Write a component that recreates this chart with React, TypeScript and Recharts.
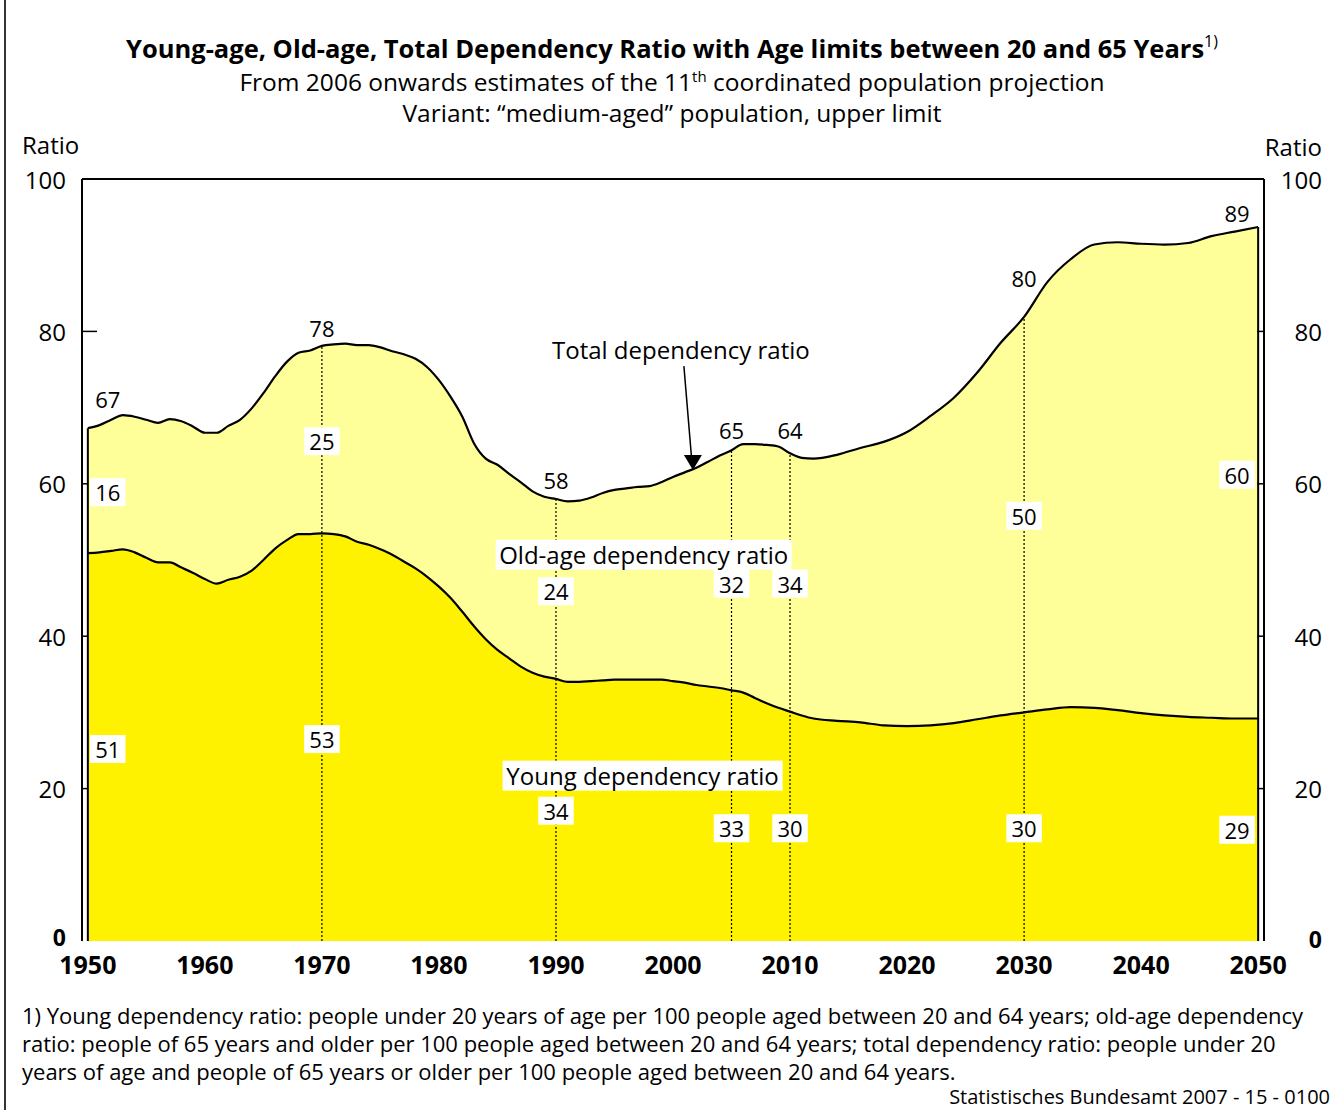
import {
  AreaChart, Area, Line, XAxis, YAxis, ReferenceLine, ReferenceDot,
} from 'recharts';

const FONT = '"Open Sans", "DejaVu Sans", sans-serif';
const YOUNG_FILL = '#FFF200';
const OLD_FILL = '#FFFF99';

// years: yearly up to 2012, every 2 years after
const years = [
  1950, 1951, 1952, 1953, 1954, 1955, 1956, 1957, 1958, 1959,
  1960, 1961, 1962, 1963, 1964, 1965, 1966, 1967, 1968, 1969,
  1970, 1971, 1972, 1973, 1974, 1975, 1976, 1977, 1978, 1979,
  1980, 1981, 1982, 1983, 1984, 1985, 1986, 1987, 1988, 1989,
  1990, 1991, 1992, 1993, 1994, 1995, 1996, 1997, 1998, 1999,
  2000, 2001, 2002, 2003, 2004, 2005, 2006, 2007, 2008, 2009,
  2010, 2011, 2012, 2014, 2016, 2018, 2020, 2022, 2024, 2026,
  2028, 2030, 2032, 2034, 2036, 2038, 2040, 2042, 2044, 2046,
  2048, 2050,
];

const total = [
  67.3, 67.7, 68.4, 69.0, 68.8, 68.4, 68.0, 68.5, 68.2, 67.5,
  66.7, 66.7, 67.6, 68.4, 69.9, 71.9, 74.1, 76.0, 77.2, 77.5,
  78.1, 78.3, 78.4, 78.2, 78.2, 77.9, 77.4, 77.0, 76.4, 75.3,
  73.6, 71.4, 68.8, 65.3, 63.3, 62.5, 61.3, 60.2, 59.0, 58.3,
  58.0, 57.7, 57.8, 58.2, 58.8, 59.2, 59.4, 59.6, 59.7, 60.2,
  60.9, 61.5, 62.1, 62.9, 63.7, 64.4, 65.2, 65.2, 65.1, 64.9,
  64.0, 63.4, 63.3, 63.8, 64.7, 65.5, 66.8, 68.9, 71.3, 74.6,
  78.5, 81.9, 86.5, 89.5, 91.4, 91.7, 91.5, 91.4, 91.6, 92.5,
  93.1, 93.7,
];

const young = [
  50.9, 51.0, 51.2, 51.4, 51.0, 50.3, 49.7, 49.7, 49.0, 48.3,
  47.5, 46.9, 47.4, 47.8, 48.6, 50.0, 51.5, 52.6, 53.4, 53.4,
  53.5, 53.4, 53.1, 52.4, 52.0, 51.4, 50.7, 49.8, 48.9, 47.8,
  46.5, 45.0, 43.2, 41.3, 39.6, 38.2, 37.1, 36.0, 35.2, 34.7,
  34.4, 34.0, 34.0, 34.1, 34.2, 34.3, 34.3, 34.3, 34.3, 34.3,
  34.1, 33.9, 33.6, 33.4, 33.2, 32.9, 32.6, 31.9, 31.2, 30.6,
  30.1, 29.6, 29.2, 28.9, 28.7, 28.3, 28.2, 28.3, 28.6, 29.1,
  29.6, 30.0, 30.4, 30.7, 30.6, 30.3, 29.9, 29.6, 29.4, 29.3,
  29.2, 29.2,
];

// labelled years and their printed values
const labelYears = [1950, 1970, 1990, 2005, 2010, 2030, 2050];
const totalLabels = ['67', '78', '58', '65', '64', '80', '89'];
const oldLabels = ['16', '25', '24', '32', '34', '50', '60'];
const youngLabels = ['51', '53', '34', '33', '30', '30', '29'];
const dottedYears = [1970, 1990, 2005, 2010, 2030];

const xTickLabels = [1950, 1960, 1970, 1980, 1990, 2000, 2010, 2020, 2030, 2040, 2050];
const yTicks = [0, 20, 40, 60, 80, 100];

// layout of the annotations (in axis units)
const labelX = [1951.7, 1970, 1990, 2005, 2010, 2030, 2048.2];
const totalLabelY = [71.1, 80.4, 60.5, 67.1, 67.1, 87.0, 95.5];
const oldLabelY = [58.9, 65.6, 45.9, 46.9, 46.9, 55.8, 61.2];
const youngLabelY = [25.2, 26.5, 17.1, 14.8, 14.8, 14.8, 14.6];

const data = years.map((year, i) => ({
  year,
  young: young[i],
  old: +(total[i] - young[i]).toFixed(1),
  total: total[i],
}));

const totalAt = (y: number) => total[years.indexOf(y)];

const halfYearTicks: number[] = [];
for (let t = 1949.5; t <= 2050.5; t += 1) halfYearTicks.push(t);

const BoxLabel = ({ cx, cy, text, boxed, width, fontSize = 22 }: any) => {
  const w = width ?? text.length * fontSize * 0.58 + 10;
  const h = fontSize + 6;
  return (
    <g>
      {boxed && <rect x={cx - w / 2} y={cy - h / 2} width={w} height={h} fill="#fff" />}
      <text x={cx} y={cy} textAnchor="middle" dominantBaseline="central"
        fontSize={fontSize} fontFamily={FONT} fill="#000">{text}</text>
    </g>
  );
};

const Arrow = ({ cx, cy }: any) => (
  <g>
    <line x1={cx - 9} y1={cy - 104} x2={cx - 1.5} y2={cy - 14} stroke="#000" strokeWidth={1.5} />
    <polygon points={`${cx - 9},${cy - 15} ${cx + 9},${cy - 15} ${cx},${cy}`} fill="#000" />
    <text x={cx - 12} y={cy - 121} textAnchor="middle" dominantBaseline="central"
      fontSize={24} fontFamily={FONT} fill="#000">Total dependency ratio</text>
  </g>
);

const LeftTick = ({ x, y, payload }: any) => {
  const v = payload.value;
  const len = v >= total[0] ? 15 : 6;
  return (
    <g>
      {v > 0 && v < 100 && <line x1={x + 16} y1={y} x2={x + 16 + len} y2={y} stroke="#000" strokeWidth={1.5} />}
      <text x={x} y={v === 0 ? y - 4 : y} textAnchor="end" dominantBaseline="central" fontSize={v === 0 ? 23 : 24}
        fontWeight={v === 0 ? 700 : 400} fontFamily={FONT} fill="#000">{v}</text>
    </g>
  );
};

const RightTick = ({ x, y, payload }: any) => {
  const v = payload.value;
  return (
    <g>
      {v > 0 && v < 100 && <line x1={x - 58} y1={y} x2={x - 65} y2={y} stroke="#000" strokeWidth={1.5} />}
      <text x={x} y={v === 0 ? y - 2 : y} textAnchor="end" dominantBaseline="central" fontSize={v === 0 ? 23 : 24}
        fontWeight={v === 0 ? 700 : 400} fontFamily={FONT} fill="#000">{v}</text>
    </g>
  );
};

const txt = (extra: any) => ({ position: 'absolute' as const, fontFamily: FONT, color: '#000', whiteSpace: 'nowrap' as const, ...extra });

export default function App() {
  return (
    <div style={{ position: 'absolute', left: 0, top: 0, width: 1339, height: 1110, background: '#fff', overflow: 'hidden' }}>
      <div style={{ position: 'absolute', left: 4, top: 0, width: 1.5, height: 1110, background: '#333' }} />

      <div style={{ position: 'absolute', left: 0, top: 0 }}>
        <AreaChart width={1339} height={1110} data={data}
          margin={{ top: 179, left: 22, right: 15, bottom: 129 }}>
          <XAxis xAxisId="yr" dataKey="year" type="number" domain={[1949.5, 2050.5]} allowDataOverflow
            ticks={halfYearTicks} interval={0} tick={() => <g />} tickSize={6} height={0}
            axisLine={{ stroke: '#000', strokeWidth: 2 }} tickLine={{ stroke: '#000', strokeWidth: 1.5 }} />
          <XAxis xAxisId="lbl" dataKey="year" type="number" domain={[1949.5, 2050.5]} allowDataOverflow
            ticks={xTickLabels} interval={0} height={40} axisLine={false} tickLine={false}
            tickSize={0} tickMargin={15}
            tick={{ fontSize: 25, fontWeight: 700, fill: '#000', fontFamily: FONT }} />
          <YAxis yAxisId="l" domain={[0, 100]} ticks={yTicks} width={60} interval={0}
            axisLine={{ stroke: '#000', strokeWidth: 2 }} tickLine={false} tickSize={0} tickMargin={16}
            tick={<LeftTick />} />
          <YAxis yAxisId="r" orientation="right" domain={[0, 100]} ticks={yTicks} width={60} interval={0}
            axisLine={{ stroke: '#000', strokeWidth: 2 }} tickLine={false} tickSize={0} tickMargin={58}
            tick={<RightTick />} />

          <Area xAxisId="yr" yAxisId="l" type="monotone" dataKey="young" stackId="s"
            fill={YOUNG_FILL} fillOpacity={1} stroke="none" isAnimationActive={false} />
          <Area xAxisId="yr" yAxisId="l" type="monotone" dataKey="old" stackId="s"
            fill={OLD_FILL} fillOpacity={1} stroke="none" isAnimationActive={false} />
          <Line xAxisId="yr" yAxisId="l" type="monotone" dataKey="young" stroke="#000"
            strokeWidth={2.2} dot={false} isAnimationActive={false} />
          <Line xAxisId="yr" yAxisId="r" type="monotone" dataKey="total" stroke="#000"
            strokeWidth={2.2} dot={false} isAnimationActive={false} />

          <ReferenceLine xAxisId="yr" yAxisId="l" y={100} stroke="#000" strokeWidth={2} />
          {[years[0], years[years.length - 1]].map((yr) => (
            <ReferenceLine key={'edge' + yr} xAxisId="yr" yAxisId="l"
              segment={[{ x: yr, y: 0 }, { x: yr, y: totalAt(yr) }]} stroke="#000" strokeWidth={2} />
          ))}
          {dottedYears.map((yr) => (
            <ReferenceLine key={'dot' + yr} xAxisId="yr" yAxisId="l"
              segment={[{ x: yr, y: 0 }, { x: yr, y: totalAt(yr) }]}
              stroke="#000" strokeWidth={1.2} strokeDasharray="2 2" />
          ))}

          {labelYears.map((yr, i) => (
            <ReferenceDot key={'t' + yr} xAxisId="yr" yAxisId="l" x={labelX[i]} y={totalLabelY[i]}
              shape={(p: any) => <BoxLabel cx={p.cx} cy={p.cy} text={totalLabels[i]} />} />
          ))}
          {labelYears.map((yr, i) => (
            <ReferenceDot key={'o' + yr} xAxisId="yr" yAxisId="l" x={labelX[i]} y={oldLabelY[i]}
              shape={(p: any) => <BoxLabel cx={p.cx} cy={p.cy} text={oldLabels[i]} boxed />} />
          ))}
          {labelYears.map((yr, i) => (
            <ReferenceDot key={'y' + yr} xAxisId="yr" yAxisId="l" x={labelX[i]} y={youngLabelY[i]}
              shape={(p: any) => <BoxLabel cx={p.cx} cy={p.cy} text={youngLabels[i]} boxed />} />
          ))}

          <ReferenceDot xAxisId="yr" yAxisId="l" x={1997.5} y={50.7}
            shape={(p: any) => <BoxLabel cx={p.cx} cy={p.cy} text="Old-age dependency ratio" boxed width={296} fontSize={24} />} />
          <ReferenceDot xAxisId="yr" yAxisId="l" x={1997.4} y={21.7}
            shape={(p: any) => <BoxLabel cx={p.cx} cy={p.cy} text="Young dependency ratio" boxed width={280} fontSize={24} />} />
          <ReferenceDot xAxisId="yr" yAxisId="l" x={2001.7} y={61.8} shape={(p: any) => <Arrow cx={p.cx} cy={p.cy} />} />
        </AreaChart>
      </div>

      <div style={txt({ left: 0, width: 1339, top: 31, textAlign: 'center', fontSize: 25.5, fontWeight: 700, lineHeight: '34px', paddingLeft: 5, boxSizing: 'border-box' })}>
        Young-age, Old-age, Total Dependency Ratio with Age limits between 20 and 65 Years
        <sup style={{ fontSize: 16, fontWeight: 400, verticalAlign: 'top', lineHeight: '20px' }}>1)</sup>
      </div>
      <div style={txt({ left: 0, width: 1339, top: 66, textAlign: 'center', fontSize: 24.5, lineHeight: '32px', paddingLeft: 5, boxSizing: 'border-box' })}>
        From 2006 onwards estimates of the 11<sup style={{ fontSize: 15, verticalAlign: 'top', lineHeight: '20px' }}>th</sup> coordinated population projection
      </div>
      <div style={txt({ left: 0, width: 1339, top: 97, textAlign: 'center', fontSize: 24.5, lineHeight: '32px', paddingLeft: 5, boxSizing: 'border-box' })}>
        Variant: “medium-aged” population, upper limit
      </div>

      <div style={txt({ left: 22, top: 128, fontSize: 24, lineHeight: '34px' })}>Ratio</div>
      <div style={txt({ right: 17, top: 130, fontSize: 24, lineHeight: '34px' })}>Ratio</div>

      <div style={txt({ left: 22, top: 1001, width: 1310, fontSize: 22, lineHeight: '28px', whiteSpace: 'normal' })}>
        1) Young dependency ratio: people under 20 years of age per 100 people aged between 20 and 64 years; old-age dependency<br />
        ratio: people of 65 years and older per 100 people aged between 20 and 64 years; total dependency ratio: people under 20<br />
        years of age and people of 65 years or older per 100 people aged between 20 and 64 years.
      </div>
      <div style={txt({ right: 9, top: 1084, fontSize: 20, lineHeight: '26px' })}>Statistisches Bundesamt 2007 - 15 - 0100</div>
    </div>
  );
}
